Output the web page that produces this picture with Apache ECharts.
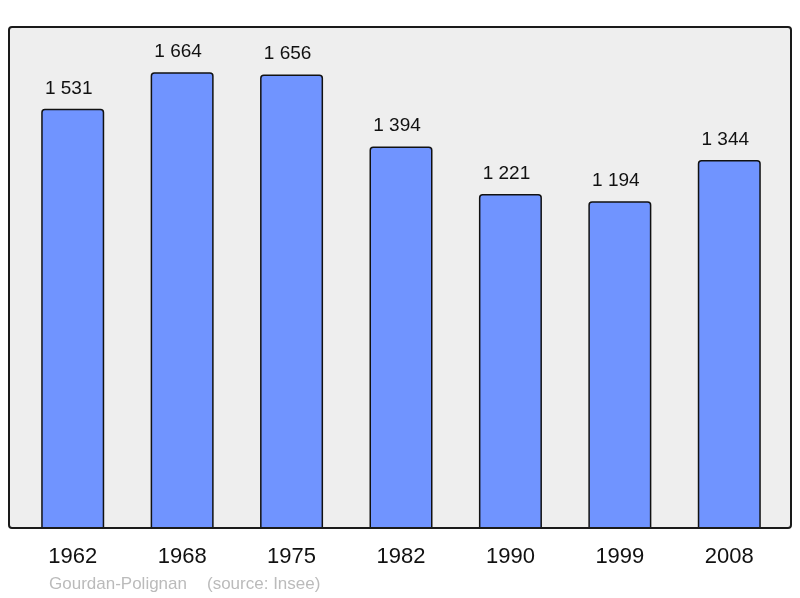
<!DOCTYPE html>
<html>
<head>
<meta charset="utf-8">
<script src="https://cdn.jsdelivr.net/npm/echarts@6/dist/echarts.min.js"></script>
<style>html,body{margin:0;padding:0;background:#fff;}#c{width:800px;height:598px;}</style>
</head>
<body>
<div id="c"></div>
<script>
const categories = ['1962', '1968', '1975', '1982', '1990', '1999', '2008'];
const population = [1531, 1664, 1656, 1394, 1221, 1194, 1344];
const commune = 'Gourdan-Polignan';
const source = '(source: Insee)';

const chart = echarts.init(document.getElementById('c'), null, {renderer: 'canvas'});
const fmt = v => String(v).replace(/\B(?=(\d{3})+(?!\d))/g, ' ');
chart.setOption({
  animation: false,
  backgroundColor: '#ffffff',
  grid: {left: 18, right: 16, top: 27, bottom: 69, containLabel: false},
  xAxis: {
    type: 'category',
    data: categories,
    axisLine: {show: false},
    axisTick: {show: false},
    axisLabel: {fontSize: 22, color: '#111', fontFamily: 'Liberation Sans, Arial, sans-serif', margin: 17}
  },
  yAxis: {
    type: 'value', min: 0, max: 1829,
    show: false, splitLine: {show: false}
  },
  graphic: [
    {type: 'rect', z: -10, silent: true,
     shape: {x: 9, y: 27, width: 782, height: 501, r: 3},
     style: {fill: '#eeeeee', stroke: null}},
    {type: 'rect', z: 100, silent: true,
     shape: {x: 9, y: 27, width: 782, height: 501, r: 3},
     style: {fill: null, stroke: '#1a1a1a', lineWidth: 2}},
    {type: 'text', left: 49, top: 576, silent: true,
     style: {text: commune, fontSize: 17, fill: '#bbbbbb', fontFamily: 'Liberation Sans, Arial, sans-serif'}},
    {type: 'text', left: 207, top: 576, silent: true,
     style: {text: source, fontSize: 17, fill: '#bbbbbb', fontFamily: 'Liberation Sans, Arial, sans-serif'}}
  ],
  series: [{
    type: 'bar',
    data: population,
    barWidth: 63,
    itemStyle: {color: '#7094ff', borderColor: '#111', borderWidth: 1.5, borderRadius: [3, 3, 0, 0]},
    label: {
      show: true, position: 'top', distance: 11, offset: [-4, 0],
      formatter: p => fmt(p.value),
      fontSize: 19, color: '#111', fontFamily: 'Liberation Sans, Arial, sans-serif'
    }
  }]
});
</script>
</body>
</html>
